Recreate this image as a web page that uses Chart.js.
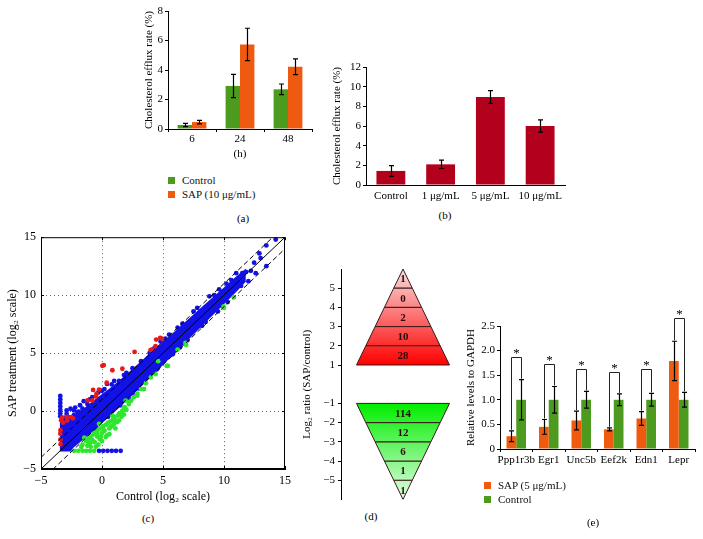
<!DOCTYPE html>
<html><head><meta charset="utf-8">
<script src="https://cdn.jsdelivr.net/npm/chart.js@4.4.1/dist/chart.umd.min.js"></script>
<style>
html,body{margin:0;padding:0;background:#fff;}
body{width:703px;height:539px;position:relative;overflow:hidden;font-family:'Liberation Serif','DejaVu Serif',serif;color:#000;}
canvas{position:absolute;}
.lbl{position:absolute;font-size:11px;white-space:nowrap;transform:translate(-50%,-50%);}
.leg{position:absolute;font-size:11px;font-weight:400;color:#111;white-space:nowrap;line-height:14px;}
.leg span.sw{display:inline-block;width:7px;height:7px;margin-right:7px;}
</style></head><body>
<canvas id="ca" width="182" height="165" style="left:139px;top:0px"></canvas>
<canvas id="cb" width="248" height="150" style="left:327px;top:55px"></canvas>
<canvas id="cc" width="296" height="283" style="left:0px;top:225px"></canvas>
<canvas id="cd" width="168" height="250" style="left:297px;top:259px"></canvas>
<canvas id="ce" width="242" height="169" style="left:461px;top:300px"></canvas>
<div class="leg" style="left:168px;top:173px"><span class="sw" style="background:#4c9a1e"></span>Control<br><span class="sw" style="background:#ee5a10"></span>SAP (10 μg/mL)</div>
<div class="leg" style="left:484px;top:478px"><span class="sw" style="background:#ee5a10"></span>SAP (5 μg/mL)<br><span class="sw" style="background:#4c9a1e"></span>Control</div>
<div class="lbl" style="left:243px;top:218px">(a)</div>
<div class="lbl" style="left:445px;top:215px">(b)</div>
<div class="lbl" style="left:148px;top:518px">(c)</div>
<div class="lbl" style="left:371px;top:516px">(d)</div>
<div class="lbl" style="left:593px;top:522px">(e)</div>
<script>
// ---------- data ----------
// (a) cholesterol efflux over time
const aHours = ['6', '24', '48'];
const aControl = [0.27, 2.92, 2.69];
const aControlErr = [0.11, 0.79, 0.36];
const aSAP = [0.47, 5.73, 4.22];
const aSAPErr = [0.12, 1.1, 0.54];
// (b) dose response
const bDoses = ['Control', '1 μg/mL', '5 μg/mL', '10 μg/mL'];
const bRate = [1.43, 2.1, 8.95, 6.0];
const bErr = [0.55, 0.42, 0.65, 0.63];
// (c) scatter (log2 control, log2 SAP)
const foldThresholds = [-1, 0, 1];
const bandUpper = [[-3.45,-0.45],[-3.0,-0.6],[-2.6,-0.55],[-2.2,-0.35],[-1.8,-0.1],[-1.4,0.2],[-1.0,0.55],[-0.5,0.95],[0,1.35],[0.5,1.75],[1,2.15],[2,3.05],[3,4.0],[4,4.95],[5,5.85],[6,6.8],[7,7.75],[8,8.7],[9,9.62],[10,10.55],[11,11.5],[11.7,12.1]];
const bandLower = [[11.7,11.2],[11,10.4],[10,9.35],[9,8.3],[8,7.25],[7,6.2],[6,5.15],[5,4.1],[4,3.05],[3,2.0],[2,1.0],[1,0.0],[0,-0.95],[-0.8,-1.7],[-1.5,-2.3],[-2.0,-2.75],[-2.4,-3.1],[-2.6,-3.4],[-3.45,-3.4]];
const bluePts = [[-3.42,1.3],[-3.42,1.0],[-3.42,0.7],[-3.42,0.4],[-3.42,0.1],[-3.42,-0.2],[-3.42,-0.45],
 [-0.24,-3.43],[0.1,-3.43],[0.45,-3.43],[0.8,-3.43],[1.15,-3.43],[1.53,-3.43],
 [-2.58,0.2],[-2.3,0.05],[-2.9,-0.25],[-2.0,-0.1],[-1.8,0.5],[-1.5,0.85],[-1.2,0.6],[-0.8,1.2],[-0.3,1.6],[0.2,1.9],[0.41,2.34],[0.8,2.3],[1.4,2.6],[1.8,3.1],[2.5,3.7],[3.2,4.3],[3.9,5.0],[4.8,6.0],[5.5,6.6],[6.2,7.2],[7.5,8.6],[8.8,9.9],[9.6,10.5],[10.2,11.0],[10.6,11.3],[11.0,11.9],
 [11.5,11.9],[11.8,12.0],[12.2,12.1],[12.6,11.9],[12.47,12.8],[12.9,13.6],[13.0,13.2],[13.47,12.5],[13.47,14.29],[14.24,14.8],[11.4,10.8],[12.0,11.2],[10.3,9.4],
 [9.5,8.6],[8.5,7.7],[7.0,6.1],[5.8,4.9],[4.5,3.6],[3.5,2.5],[2.5,1.5],[1.5,0.5],[0.5,-0.5],[-0.5,-1.4],
 [-3.1,-0.6],[-2.7,-0.55],[-2.3,-0.35],[-1.9,-0.05],[-1.6,0.2],[-2.9,0.05],[-2.2,0.3],[-1.0,1.0],[0.0,1.75],[1.0,2.6],[2.0,3.3],
 [4.3,5.45],[5.2,6.25],[6.6,7.55],[7.8,8.9],[9.2,10.0],[4.6,3.75],[6.4,5.5],[8.2,7.35],[9.8,9.1],[3.0,1.95],[2.2,1.05]];
const redPts = [[2.67,5.1],[0.14,3.96],[0.03,3.9],[-0.73,1.82],[-0.24,1.85],[-0.45,1.5],[-0.79,0.91],[-0.49,1.25],[-1.19,0.92],[0.39,2.44],
 [-3.27,-0.57],[-2.9,-0.51],[-3.35,-0.8],[-2.37,-0.63],[-2.53,-0.53],[-2.85,-0.81],[-3.18,-1.0],[-3.4,-1.65],[-3.42,-1.95],[-3.39,-2.86],[-3.4,-2.45],
 [4.44,6.17],[4.77,6.31],[4.12,5.31],[4.39,5.6],[4.9,6.25],[0.85,3.52],[1.67,3.65],[3.98,5.26]];
const greenPts = [[-1.3,-2.6],[-1.2,-3.0],[-1.1,-2.4],[-1.0,-2.8],[-0.9,-2.2],[-0.8,-2.5],[-0.7,-2.0],[-0.6,-2.7],[-0.5,-1.8],[-0.4,-2.2],[-0.3,-1.6],[-0.2,-2.4],[-0.1,-1.5],[0,-1.9],[0.1,-1.3],[0.2,-1.7],[0.3,-1.2],[0.4,-2.1],[0.5,-1.0],[0.6,-1.5],[0.7,-0.9],[0.8,-1.3],[0.9,-0.7],[1.0,-1.1],[1.1,-0.5],[1.2,-0.9],[1.3,-0.4],[1.4,-0.8],[1.5,-0.2],[1.6,-0.5],[1.7,0.0],[1.8,-0.3],[1.9,0.3],[2.0,0.1],[2.2,0.6],[2.4,0.9],[2.6,1.2],[2.9,1.5],[3.2,1.9],[3.4,1.9],[3.6,2.4],[4.0,2.9],[4.6,4.3],[5.3,3.9],[5.4,3.9],[6.2,5.3],[6.9,5.7],[10.0,8.9],[10.8,9.8],
 [-2.28,-3.43],[-1.95,-3.43],[-1.6,-3.43],[-1.3,-3.43],[-1.0,-3.43],[-0.65,-3.43],[-1.6,-2.9],[-1.45,-2.3],[-1.7,-3.1],
 [-0.92,-2.24],[-0.65,-2.66],[-1.05,-2.8],[-0.37,-1.95],[0.17,-1.67],[0.44,-1.1],[0.99,-0.81],[1.39,-0.24],[1.8,0.33],[2.21,0.76],[2.89,1.33],[3.44,1.9],[4.39,3.18],[5.34,3.89],[6.84,5.88],[9.97,9.02],
 [-0.1,-2.24],[0.71,-1.38],[1.26,-0.95],[-0.24,-1.1],[0.31,-2.24],[-0.51,-3.09],[-0.92,-3.09],[0.85,-0.38],[1.67,0.04],[1.94,0.9],[0.0,-2.6],[-0.3,-2.9],[0.6,-2.0],[1.1,-1.5]];
// (d) number of genes per log2 ratio bin
const upEdges = [1, 2, 3, 4, 5, 6];
const upCounts = [28, 10, 2, 0, 1];
const downEdges = [-1, -2, -3, -4, -5, -6];
const downCounts = [114, 12, 6, 1, 1];
const dTicks = [-5, -4, -3, -2, -1, 1, 2, 3, 4, 5];
// (e) qPCR
const eGenes = ['Ppp1r3b', 'Egr1', 'Unc5b', 'Eef2k', 'Edn1', 'Lepr'];
const eSAP = [0.26, 0.45, 0.58, 0.40, 0.62, 1.79];
const eSAPErr = [0.11, 0.15, 0.19, 0.03, 0.14, 0.40];
const eCtrl = [1, 1, 1, 1, 1, 1];
const eCtrlErr = [0.41, 0.27, 0.17, 0.12, 0.13, 0.15];
const eBracket = [1.86, 1.72, 1.63, 1.56, 1.63, 2.67];
const eSig = ['*', '*', '*', '*', '*', '*'];

// ---------- styles ----------
const GREEN = '#4c9a1e', ORANGE = '#ee5a10', CRIMSON = '#b3001c';
const FONT = "'Liberation Serif','DejaVu Serif',serif";
Chart.defaults.font.family = FONT;
Chart.defaults.font.size = 11;
Chart.defaults.color = '#000';
Chart.defaults.animation = false;
Chart.defaults.responsive = false;
Chart.defaults.plugins.legend.display = false;
Chart.defaults.plugins.tooltip.enabled = false;

function fit(W, H, L, T, R, B, xShown = true) {
  return {
    padding: { left: 0, top: T, right: W - R, bottom: xShown ? 0 : H - B },
    yFit: s => { s.width = L; },
    xFit: s => { s.height = H - B; }
  };
}
const minus = v => String(v).replace('-', '\u2212');

const errorBars = {
  id: 'errorBars',
  afterDatasetsDraw(chart) {
    const c = chart.ctx, ys = chart.scales.y;
    chart.data.datasets.forEach((ds, i) => {
      if (!ds.errors) return;
      const meta = chart.getDatasetMeta(i);
      c.save(); c.strokeStyle = '#000'; c.lineWidth = 1.2;
      meta.data.forEach((el, j) => {
        const v = ds.data[j], e = ds.errors[j], x = Math.round(el.x) + 0.5;
        const y1 = ys.getPixelForValue(v + e), y2 = ys.getPixelForValue(v - e);
        c.beginPath();
        c.moveTo(x, y1); c.lineTo(x, y2);
        c.moveTo(x - 2.5, y1); c.lineTo(x + 2.5, y1);
        c.moveTo(x - 2.5, y2); c.lineTo(x + 2.5, y2);
        c.stroke();
      });
      c.restore();
    });
  }
};

function barScales(f, yMax, yStep, xTickLen, xPad, yTitle, xTitle) {
  return {
    x: {
      grid: { drawOnChartArea: false, drawTicks: xTickLen > 0, tickLength: xTickLen, color: '#000' },
      border: { color: '#000' },
      ticks: { padding: xPad, maxRotation: 0, autoSkip: false },
      title: xTitle ? { display: true, text: xTitle } : { display: false },
      afterFit: f.xFit
    },
    y: {
      min: 0, max: yMax,
      grid: { drawOnChartArea: false, tickLength: 3, color: '#000' },
      border: { color: '#000' },
      ticks: { stepSize: yStep, padding: 2 },
      title: { display: true, text: yTitle },
      afterFit: f.yFit
    }
  };
}

// (a)
const fa = fit(182, 165, 29, 11, 173, 129);
new Chart(document.getElementById('ca'), {
  type: 'bar',
  data: { labels: aHours, datasets: [
    { label: 'Control', data: aControl, errors: aControlErr, backgroundColor: GREEN },
    { label: 'SAP (10 μg/mL)', data: aSAP, errors: aSAPErr, backgroundColor: ORANGE }
  ] },
  options: {
    layout: { padding: fa.padding },
    datasets: { bar: { categoryPercentage: 0.6, barPercentage: 1 } },
    scales: barScales(fa, 8, 1, 3, 1, 'Cholesterol efflux rate (%)', '(h)')
  },
  plugins: [errorBars]
});

// (b)
const fb = fit(248, 150, 39, 12, 238, 130);
new Chart(document.getElementById('cb'), {
  type: 'bar',
  data: { labels: bDoses, datasets: [
    { label: 'Efflux', data: bRate, errors: bErr, backgroundColor: CRIMSON }
  ] },
  options: {
    layout: { padding: fb.padding },
    datasets: { bar: { categoryPercentage: 1, barPercentage: 0.58 } },
    scales: barScales(fb, 12, 2, 0, 5, 'Cholesterol efflux rate (%)', null)
  },
  plugins: [errorBars]
});

// (c)
const fc = fit(296, 283, 41, 10, 286, 244);
const frame = {
  id: 'frame',
  afterDraw(chart) {
    const a = chart.chartArea, c = chart.ctx, xs = chart.scales.x, ys = chart.scales.y;
    c.save(); c.strokeStyle = '#000'; c.lineWidth = 1;
    c.strokeRect(a.left + 0.5, a.top + 0.5, a.right - a.left - 1, a.bottom - a.top - 1);
    c.beginPath();
    xs.ticks.forEach(t => {
      const x = Math.round(xs.getPixelForValue(t.value)) + 0.5;
      c.moveTo(x, a.bottom); c.lineTo(x, a.bottom - 3);
      c.moveTo(x, a.top); c.lineTo(x, a.top + 3);
    });
    ys.ticks.forEach(t => {
      const y = Math.round(ys.getPixelForValue(t.value)) + 0.5;
      c.moveTo(a.left, y); c.lineTo(a.left + 3, y);
      c.moveTo(a.right, y); c.lineTo(a.right - 3, y);
    });
    c.stroke();
    c.restore();
  }
};
const cMin = -5, cMax = 15;
const xy = p => ({ x: p[0], y: p[1] });
const foldSets = foldThresholds.map(d => ({
  data: [{ x: cMin, y: cMin + d }, { x: cMax, y: cMax + d }],
  showLine: true, pointRadius: 0, borderColor: '#000', borderWidth: 1,
  borderDash: d === 0 ? [] : [5, 3], fill: false
}));
const gridColor = ctx => (ctx.tick && (ctx.tick.value === cMin || ctx.tick.value === cMax)) ? 'rgba(0,0,0,0)' : '#666';
new Chart(document.getElementById('cc'), {
  type: 'scatter',
  data: { datasets: [
    ...foldSets,
    { data: redPts.map(xy), backgroundColor: '#e61a1a', pointRadius: 2.4, borderWidth: 0 },
    { data: greenPts.map(xy), backgroundColor: '#2ee62e', pointRadius: 2.4, borderWidth: 0 },
    { data: bluePts.map(xy), backgroundColor: '#1212e6', pointRadius: 2.4, borderWidth: 0 },
    { data: bandUpper.concat(bandLower).map(xy), showLine: true, fill: 'shape', pointRadius: 0,
      backgroundColor: '#1212e6', borderColor: '#1212e6', borderWidth: 2 }
  ] },
  options: {
    layout: { padding: fc.padding },
    scales: {
      x: { type: 'linear', min: cMin, max: cMax,
        ticks: { stepSize: 5, padding: 5, callback: minus, font: { size: 12 } },
        grid: { drawTicks: false, color: gridColor }, border: { dash: [1, 3], color: '#000' },
        title: { display: true, text: 'Control (log\u2082 scale)', font: { size: 12 } },
        afterFit: fc.xFit },
      y: { type: 'linear', min: cMin, max: cMax,
        ticks: { stepSize: 5, padding: 5, callback: minus, font: { size: 12 } },
        grid: { drawTicks: false, color: gridColor }, border: { dash: [1, 3], color: '#000' },
        title: { display: true, text: 'SAP treatment (log\u2082 scale)', font: { size: 12 }, padding: { top: 6, bottom: 4 } },
        afterFit: fc.yFit }
    }
  },
  plugins: [frame]
});

// (d)
const fd = fit(168, 250, 44, 10, 168, 242, false);
const apex = 6, baseHalf = 1, baseLevel = 1;
const halfW = v => baseHalf * (apex - Math.abs(v)) / (apex - baseLevel);
function bandSets(edges, counts, cTop, cBottom, from, to) {
  return counts.map((n, i) => {
    const v0 = edges[i], v1 = edges[i + 1];
    const w0 = halfW(v0), w1 = halfW(v1);
    return {
      data: [{ x: -w0, y: v0 }, { x: w0, y: v0 }, { x: w1, y: v1 }, { x: -w1, y: v1 }, { x: -w0, y: v0 }],
      count: n, mid: (v0 + v1) / 2,
      showLine: true, fill: 'shape', pointRadius: 0, borderColor: '#3a1a1a', borderWidth: 1,
      backgroundColor: ctx => {
        const ch = ctx.chart;
        if (!ch.chartArea) return cBottom;
        const ys = ch.scales.y;
        const g = ch.ctx.createLinearGradient(0, ys.getPixelForValue(from), 0, ys.getPixelForValue(to));
        g.addColorStop(0, cBottom); g.addColorStop(1, cTop);
        return g;
      }
    };
  });
}
const countLabels = {
  id: 'countLabels',
  afterDatasetsDraw(chart) {
    const c = chart.ctx, xs = chart.scales.x, ys = chart.scales.y;
    c.save(); c.fillStyle = '#2a0a0a'; c.font = 'bold 11px ' + FONT;
    c.textAlign = 'center'; c.textBaseline = 'middle';
    chart.data.datasets.forEach(ds => {
      c.fillText(String(ds.count), xs.getPixelForValue(0), ys.getPixelForValue(ds.mid) + 1);
    });
    c.restore();
  }
};
new Chart(document.getElementById('cd'), {
  type: 'scatter',
  data: { datasets: [
    ...bandSets(upEdges, upCounts, '#f8dede', '#ff0000', 1, 6),
    ...bandSets(downEdges, downCounts, '#e6fce6', '#00ee00', -1, -6)
  ] },
  options: {
    layout: { padding: fd.padding },
    scales: {
      x: { type: 'linear', min: -4 / 3, max: 4 / 3, display: false },
      y: { type: 'linear', min: -6, max: 6,
        afterBuildTicks: s => { s.ticks = dTicks.map(v => ({ value: v })); },
        ticks: { callback: minus, padding: 3 },
        grid: { drawOnChartArea: false, tickLength: 3, color: '#000' },
        border: { color: '#000' },
        title: { display: true, text: 'Log\u2082 ratio (SAP/control)' },
        afterFit: fd.yFit }
    }
  },
  plugins: [countLabels]
});

// (e)
const fe = fit(242, 169, 39, 26, 234, 149);
const brackets = {
  id: 'brackets',
  afterDatasetsDraw(chart) {
    const c = chart.ctx, ys = chart.scales.y;
    const m0 = chart.getDatasetMeta(0), m1 = chart.getDatasetMeta(1);
    c.save(); c.strokeStyle = '#222'; c.lineWidth = 1; c.fillStyle = '#000';
    c.font = '13px ' + FONT; c.textAlign = 'center'; c.textBaseline = 'middle';
    eGenes.forEach((g, j) => {
      const x0 = Math.round(m0.data[j].x) + 0.5, x1 = Math.round(m1.data[j].x) + 0.5;
      const yTop = Math.round(ys.getPixelForValue(eBracket[j])) + 0.5;
      const yl = ys.getPixelForValue(eSAP[j] + eSAPErr[j]) - 1;
      const yr = ys.getPixelForValue(eCtrl[j] + eCtrlErr[j]) - 1;
      c.beginPath(); c.moveTo(x0, yl); c.lineTo(x0, yTop); c.lineTo(x1, yTop); c.lineTo(x1, yr); c.stroke();
      c.fillText(eSig[j], (x0 + x1) / 2, yTop - 4);
    });
    c.restore();
  }
};
new Chart(document.getElementById('ce'), {
  type: 'bar',
  data: { labels: eGenes, datasets: [
    { label: 'SAP (5 μg/mL)', data: eSAP, errors: eSAPErr, backgroundColor: ORANGE },
    { label: 'Control', data: eCtrl, errors: eCtrlErr, backgroundColor: GREEN }
  ] },
  options: {
    layout: { padding: fe.padding },
    datasets: { bar: { categoryPercentage: 0.6, barPercentage: 1 } },
    scales: barScales(fe, 2.5, 0.5, 3, 2, 'Relative levels to GAPDH', null)
  },
  plugins: [errorBars, brackets]
});
</script>
</body></html>
